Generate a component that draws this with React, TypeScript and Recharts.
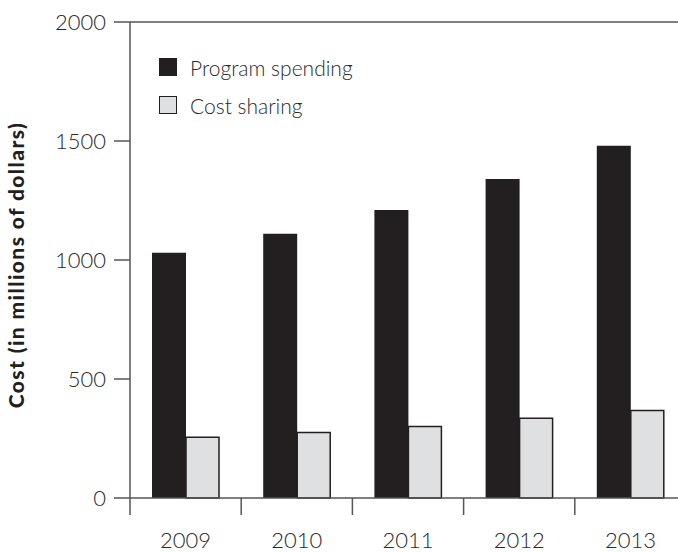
import { Bar, BarChart, ReferenceLine, XAxis, YAxis } from "recharts";

const years = ["2009", "2010", "2011", "2012", "2013"];
const programSpending = [1030, 1110, 1210, 1340, 1480];
const costSharing = [255, 275, 300, 335, 368];
const yTicks = [0, 500, 1000, 1500, 2000];
const legendItems = ["Program spending", "Cost sharing"];
const yTitle = "Cost (in millions of dollars)";

const data = years.map((year, i) => ({
  year,
  program: programSpending[i],
  sharing: costSharing[i],
}));

const FONT = "Lato, 'Open Sans', sans-serif";
const INK = "#231f20";
const GREY = "#dfe0e2";
const AXIS = "#555555";
const TEXT = "#2a2a2a";
const HALF_BAND = 55.6;

interface TickProps {
  x?: number;
  y?: number;
  payload?: { value: string };
}

function YearTick({ x = 0, y = 0, payload }: TickProps) {
  return (
    <g>
      <line
        x1={x - HALF_BAND}
        y1={y}
        x2={x - HALF_BAND}
        y2={y + 17}
        stroke={AXIS}
        strokeWidth={1.5}
      />
      <text
        x={x}
        y={y + 50}
        textAnchor="middle"
        fill={TEXT}
        fontSize={22}
        fontWeight={300}
        fontFamily={FONT}
      >
        {payload?.value}
      </text>
    </g>
  );
}

function YTitle() {
  return (
    <text
      transform="rotate(-90)"
      x={-265}
      y={24}
      textAnchor="middle"
      fontSize={21}
      fontWeight={900}
      letterSpacing={1.4}
      fill={INK}
      fontFamily={FONT}
    >
      {yTitle}
    </text>
  );
}

function LegendBox() {
  const fills = [INK, GREY];
  return (
    <div
      style={{
        position: "absolute",
        left: 159,
        top: 48,
        fontFamily: FONT,
      }}
    >
      {legendItems.map((label, i) => (
        <div
          key={label}
          style={{ display: "flex", alignItems: "center", height: 38 }}
        >
          <span
            style={{
              width: 16,
              height: 16,
              background: fills[i],
              border: `1.5px solid ${INK}`,
              display: "inline-block",
            }}
          />
          <span
            style={{
              marginLeft: 13,
              fontSize: 21,
              fontWeight: 300,
              color: TEXT,
            }}
          >
            {label}
          </span>
        </div>
      ))}
    </div>
  );
}

export default function App() {
  return (
    <div
      style={{
        position: "absolute",
        left: 0,
        top: 0,
        width: 678,
        height: 552,
        overflow: "hidden",
        background: "#fff",
      }}
    >
      <BarChart
        width={686}
        height={552}
        data={data}
        margin={{ top: 22, right: 0, bottom: 10, left: 40 }}
        barGap={0}
      >
        <ReferenceLine y={2000} stroke={AXIS} strokeWidth={1.5} />
        <XAxis
          dataKey="year"
          axisLine={{ stroke: AXIS, strokeWidth: 1.5 }}
          tickLine={false}
          tickSize={0}
          tickMargin={0}
          height={44}
          tick={<YearTick />}
          interval={0}
        />
        <YAxis
          domain={[0, 2000]}
          ticks={yTicks}
          width={90}
          axisLine={{ stroke: AXIS, strokeWidth: 1.5 }}
          tickLine={{ stroke: AXIS, strokeWidth: 1.5 }}
          tickSize={16}
          tickMargin={8}
          tick={{ fontSize: 22, fill: TEXT, fontFamily: FONT, fontWeight: 300 }}
          label={<YTitle />}
        />
        <Bar
          dataKey="program"
          fill={INK}
          barSize={34}
          isAnimationActive={false}
        />
        <Bar
          dataKey="sharing"
          fill={GREY}
          stroke={INK}
          strokeWidth={1.5}
          barSize={33}
          isAnimationActive={false}
        />
      </BarChart>
      <LegendBox />
    </div>
  );
}
